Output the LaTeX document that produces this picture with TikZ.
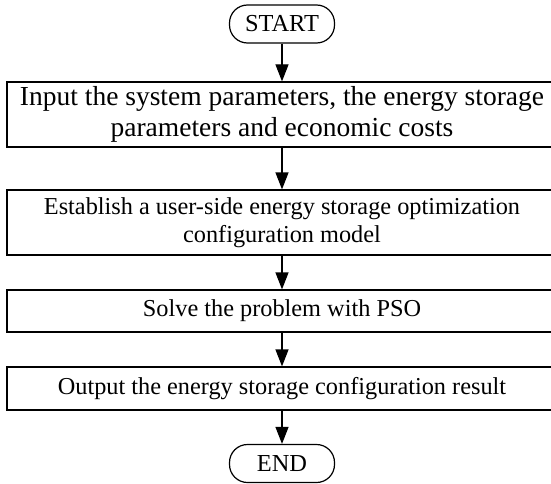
\documentclass[tikz,border=0pt]{standalone}
\usepackage{fontspec}
\setmainfont{Liberation Serif}
\usetikzlibrary{arrows.meta}
\usetikzlibrary{positioning}

\tikzset{
  procbox/.style={draw, line width=1.2pt, rectangle, minimum width=550pt, align=center, inner sep=0pt},
  termbox/.style={draw, line width=1.2pt, rounded corners=18pt, minimum width=105pt, minimum height=38pt, inner sep=0pt, font=\fontsize{24.4}{28}\selectfont},
  flowarrow/.style={line width=1.2pt, -{Triangle[length=17pt,width=13pt]}}
}

\begin{document}
\begin{tikzpicture}[x=1pt,y=-1pt]
            \useasboundingbox (0,0) rectangle (551,484);
            % Start and end
            \node[termbox] (start) at (282,24) {START};
            \node[termbox] (stop) at (282,463.5) {END};

            % Steps
            \node[procbox, minimum height=65pt, font=\fontsize{27.5}{31}\selectfont] (input) at (282,114.5)
                {Input the system parameters, the energy storage\\parameters and economic costs};
            \node[procbox, minimum height=65pt, font=\fontsize{24.3}{28}\selectfont] (model) at (282,222.5)
                {Establish a user-side energy storage optimization\\configuration model};
            \node[procbox, minimum height=42pt, font=\fontsize{24.3}{28}\selectfont] (solve) at (282,311)
                {Solve the problem with PSO};
            \node[procbox, minimum height=43pt, font=\fontsize{24.3}{28}\selectfont] (output) at (282,388.5)
                {Output the energy storage configuration result};

            % Arrows
            \draw[flowarrow] (start) -- (input);
            \draw[flowarrow] (input) -- (model);
            \draw[flowarrow] (model) -- (solve);
            \draw[flowarrow] (solve) -- (output);
            \draw[flowarrow] (output) -- (stop);
        \end{tikzpicture}
\end{document}
